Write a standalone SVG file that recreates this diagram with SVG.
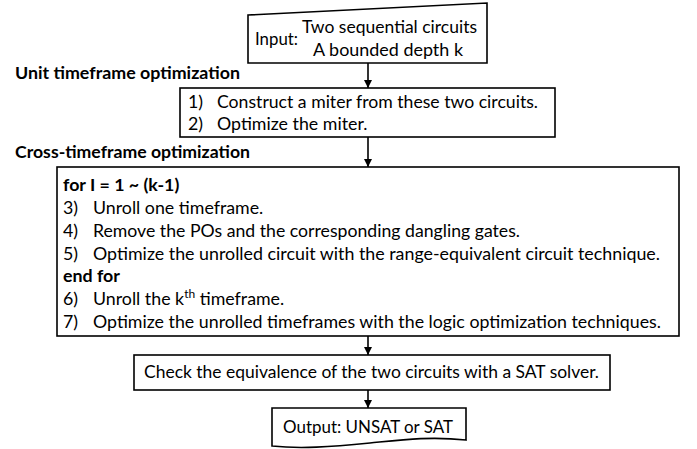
<svg xmlns="http://www.w3.org/2000/svg" width="697" height="449" viewBox="0 0 697 449">
<style>
.box{fill:#fff;stroke:#000;stroke-width:1.6}
.t{font-family:Lato,"Liberation Sans",sans-serif;font-size:17.8px;fill:#000}
.b{font-weight:bold}
.c{text-anchor:middle}
.ln{stroke:#000;stroke-width:1.6;fill:none}
</style>
<defs>
<marker id="ah" viewBox="0 0 8 8" refX="8" refY="4" markerWidth="8" markerHeight="8" markerUnits="userSpaceOnUse" orient="auto">
<path d="M0,0 L8,4 L0,8 Z" fill="#000"/>
</marker>
</defs>
<rect width="697" height="449" fill="#fff"/>
<text class="t b" x="15" y="79" textLength="225" lengthAdjust="spacingAndGlyphs">Unit timeframe optimization</text>
<text class="t b" x="15" y="158" textLength="235" lengthAdjust="spacingAndGlyphs">Cross-timeframe optimization</text>
<g id="connectors">
<line class="ln" x1="368" y1="63" x2="368" y2="88" marker-end="url(#ah)"/>
<line class="ln" x1="368" y1="137" x2="368" y2="167" marker-end="url(#ah)"/>
<line class="ln" x1="368" y1="336" x2="368" y2="355" marker-end="url(#ah)"/>
<line class="ln" x1="368" y1="390" x2="368" y2="408" marker-end="url(#ah)"/>
</g>
<g id="input">
<path class="box" d="M248,15 L487,3 L487,63 L248,63 Z"/>
<text class="t" x="255" y="45" textLength="43" lengthAdjust="spacingAndGlyphs">Input:</text>
<text class="t" x="302" y="33" textLength="175" lengthAdjust="spacingAndGlyphs">Two sequential circuits</text>
<text class="t" x="313" y="56" textLength="150" lengthAdjust="spacingAndGlyphs">A bounded depth k</text>
</g>
<g id="unit">
<rect class="box" x="180" y="88" width="375" height="49"/>
<text class="t" x="188" y="108">1)</text>
<text class="t" x="217" y="108" textLength="321" lengthAdjust="spacingAndGlyphs">Construct a miter from these two circuits.</text>
<text class="t" x="188" y="130">2)</text>
<text class="t" x="217" y="130">Optimize the miter.</text>
</g>
<g id="cross">
<rect class="box" x="57" y="167" width="622" height="169"/>
<text class="t b" x="63" y="191">for I = 1 ~ (k-1)</text>
<text class="t" x="63" y="214">3)</text>
<text class="t" x="93" y="214">Unroll one timeframe.</text>
<text class="t" x="63" y="237">4)</text>
<text class="t" x="93" y="237" textLength="427" lengthAdjust="spacingAndGlyphs">Remove the POs and the corresponding dangling gates.</text>
<text class="t" x="63" y="260">5)</text>
<text class="t" x="93" y="260" textLength="567" lengthAdjust="spacingAndGlyphs">Optimize the unrolled circuit with the range-equivalent circuit technique.</text>
<text class="t b" x="63" y="282">end for</text>
<text class="t" x="63" y="305">6)</text>
<text class="t" x="93" y="305">Unroll the k<tspan font-size="12" dy="-7">th</tspan><tspan dy="7"> timeframe.</tspan></text>
<text class="t" x="63" y="328">7)</text>
<text class="t" x="93" y="328">Optimize the unrolled timeframes with the logic optimization techniques.</text>
</g>
<g id="check">
<rect class="box" x="134" y="355" width="476" height="35"/>
<text class="t" x="144" y="378" textLength="455" lengthAdjust="spacingAndGlyphs">Check the equivalence of the two circuits with a SAT solver.</text>
</g>
<g id="output">
<path class="box" d="M272,408 H466 V440 C430,436 400,440 370,443 C330,447 300,449 272,446 Z"/>
<text class="t" x="283" y="433" textLength="170" lengthAdjust="spacingAndGlyphs">Output: UNSAT or SAT</text>
</g>
</svg>
